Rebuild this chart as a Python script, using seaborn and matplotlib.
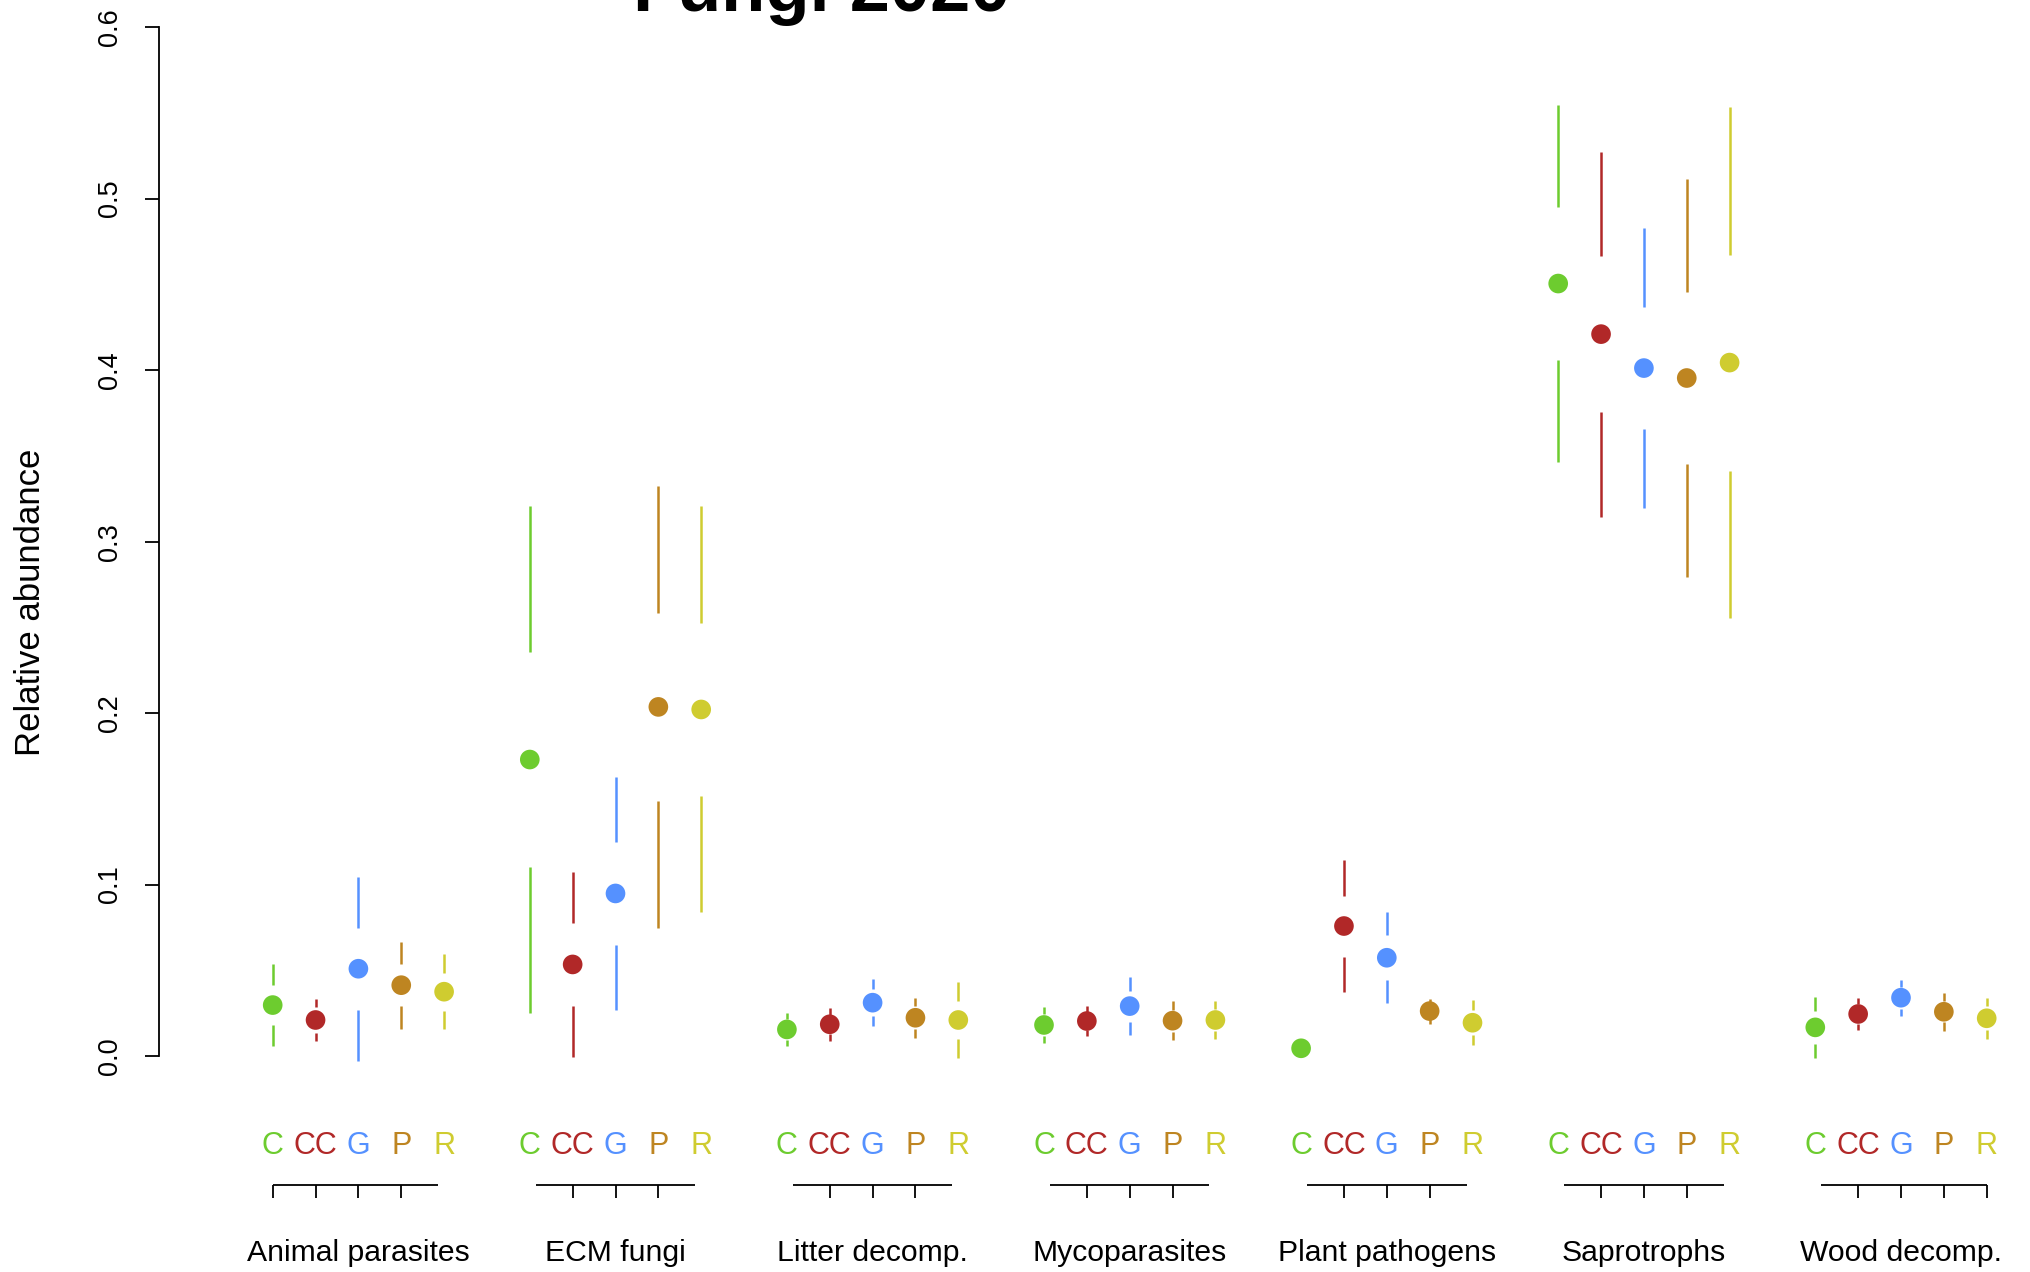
import numpy as np
import pandas as pd
import seaborn as sns
import matplotlib
matplotlib.use("Agg")
import matplotlib.pyplot as plt
from matplotlib import transforms

# ---------------- data ----------------
groups = ["Animal parasites", "ECM fungi", "Litter decomp.", "Mycoparasites",
          "Plant pathogens", "Saprotrophs", "Wood decomp."]
treatments = ["C", "CC", "G", "P", "R"]
palette = {"C": "#6DCC2F", "CC": "#B12828", "G": "#5591FF",
           "P": "#BE8521", "R": "#CFCC30"}

# point estimate per group, one list per treatment
mean_C  = [0.0297, 0.1729, 0.0155, 0.0181, 0.0045, 0.4505, 0.0167]
mean_CC = [0.0210, 0.0534, 0.0185, 0.0204, 0.0758, 0.4210, 0.0245]
mean_G  = [0.0509, 0.0948, 0.0311, 0.0291, 0.0573, 0.4012, 0.0340]
mean_P  = [0.0413, 0.2036, 0.0223, 0.0206, 0.0262, 0.3954, 0.0258]
mean_R  = [0.0375, 0.2021, 0.0210, 0.0210, 0.0194, 0.4044, 0.0220]

# inner half-width (gap around the point)
se_C  = [0.0117, 0.0625, 0.0060, 0.0064, 0.0015, 0.0448, 0.0095]
se_CC = [0.0074, 0.0240, 0.0056, 0.0052, 0.0178, 0.0455, 0.0058]
se_G  = [0.0240, 0.0298, 0.0078, 0.0090, 0.0132, 0.0355, 0.0064]
se_P  = [0.0123, 0.0550, 0.0068, 0.0064, 0.0040, 0.0500, 0.0061]
se_R  = [0.0110, 0.0503, 0.0111, 0.0066, 0.0072, 0.0630, 0.0071]

# outer half-width (end of the bars)
ci_C  = [0.0240, 0.1478, 0.0095, 0.0105, 0.0030, 0.1043, 0.0180]
ci_CC = [0.0124, 0.0542, 0.0097, 0.0088, 0.0387, 0.1065, 0.0095]
ci_G  = [0.0536, 0.0680, 0.0136, 0.0171, 0.0266, 0.0817, 0.0106]
ci_P  = [0.0253, 0.1290, 0.0118, 0.0112, 0.0073, 0.1162, 0.0112]
ci_R  = [0.0218, 0.1184, 0.0224, 0.0110, 0.0130, 0.1490, 0.0120]

y_ticks = [0.0, 0.1, 0.2, 0.3, 0.4, 0.5, 0.6]
y_tick_labels = ["0.0", "0.1", "0.2", "0.3", "0.4", "0.5", "0.6"]

means = {"C": mean_C, "CC": mean_CC, "G": mean_G, "P": mean_P, "R": mean_R}
ses = {"C": se_C, "CC": se_CC, "G": se_G, "P": se_P, "R": se_R}
cis = {"C": ci_C, "CC": ci_CC, "G": ci_G, "P": ci_P, "R": ci_R}

rows = []
for gi, g in enumerate(groups):
    for ti, t in enumerate(treatments):
        rows.append(dict(group=g, treatment=t, x=6 * gi + ti,
                         mean=means[t][gi], se=ses[t][gi], ci=cis[t][gi]))
df = pd.DataFrame(rows)

# ---------------- figure ----------------
sns.set_theme(style="white")
plt.rcParams["font.family"] = ["Liberation Sans", "DejaVu Sans"]
plt.rcParams["text.color"] = "black"
plt.rcParams["axes.labelcolor"] = "black"
plt.rcParams["ytick.color"] = "black"

W, H = 2030, 1272
fig = plt.figure(figsize=(W / 100, H / 100), dpi=100)

def fy(px):
    return 1 - px / H

# axes geometry (pixel-based)
y0_px, y06_px = 1056.0, 27.2
ppu = (y0_px - y06_px) / 0.6
ymin = -0.03
bottom_px = y0_px - ymin * ppu
slot_px = 42.85
xC0_px = 272.7
left_px = 159.0
xmin = (left_px - xC0_px) / slot_px
xmax = (W - xC0_px) / slot_px

ax = fig.add_axes([left_px / W, fy(bottom_px), 1 - left_px / W,
                   (bottom_px - y06_px) / H])
ax.set_xlim(xmin, xmax)
ax.set_ylim(ymin, 0.6)

# error bars with a gap around the point
for _, r in df.iterrows():
    c = palette[r["treatment"]]
    ax.vlines(r["x"], r["mean"] + r["se"], r["mean"] + r["ci"], colors=c,
              linewidth=1.8, zorder=2)
    ax.vlines(r["x"], r["mean"] - r["ci"], r["mean"] - r["se"], colors=c,
              linewidth=1.8, zorder=2)

sns.scatterplot(data=df, x="x", y="mean", hue="treatment", palette=palette,
                hue_order=treatments, s=200, linewidth=0, legend=False,
                ax=ax, zorder=3)

# spines / ticks
for sp in ["top", "right", "bottom"]:
    ax.spines[sp].set_visible(False)
ax.spines["left"].set_bounds(0, 0.6)
ax.spines["left"].set_linewidth(1.3)
ax.spines["left"].set_color("black")
ax.set_yticks(y_ticks)
ax.set_yticklabels(y_tick_labels, rotation=90, va="center")
ax.tick_params(axis="y", left=True, length=10, width=1.3, pad=16,
               labelsize=19.5, colors="black")
ax.set_xticks([])
ax.set_xlabel("")
ax.set_ylabel("")

fig.text(31 / W, fy(602), "Relative abundance", rotation=90, ha="center",
         va="center", fontsize=25, color="black")

fig.text(822 / W, fy(11), "Fungi 2020", ha="center", va="baseline",
         fontsize=52, fontweight="bold", color="black")

# custom x decorations
tr = transforms.blended_transform_factory(ax.transData, fig.transFigure)
line_y = fy(1184.6)
tick_y = fy(1198.0)
ng = len(groups)
off = 6.0 / slot_px
for gi, g in enumerate(groups):
    base = 6 * gi
    for ti, t in enumerate(treatments):
        ax.text(base + ti, fy(1154), t, color=palette[t], ha="center",
                va="baseline", fontsize=22, transform=tr, clip_on=False)
    xs = base + (0 if gi == 0 else off)
    xe = base + 4 - (0 if gi == ng - 1 else off)
    ax.plot([xs, xe], [line_y, line_y], color="black", lw=1.3,
            transform=tr, clip_on=False, solid_capstyle="butt")
    ticks = [1, 2, 3]
    if gi == 0:
        ticks = [0] + ticks
    if gi == ng - 1:
        ticks = ticks + [4]
    for k in ticks:
        ax.plot([base + k, base + k], [line_y, tick_y], color="black", lw=1.3,
                transform=tr, clip_on=False, solid_capstyle="butt")
    ax.text(base + 2, fy(1261), g, ha="center", va="baseline", fontsize=21.7,
            color="black", transform=tr, clip_on=False)

fig.savefig("out.png", dpi=100, facecolor="white")
